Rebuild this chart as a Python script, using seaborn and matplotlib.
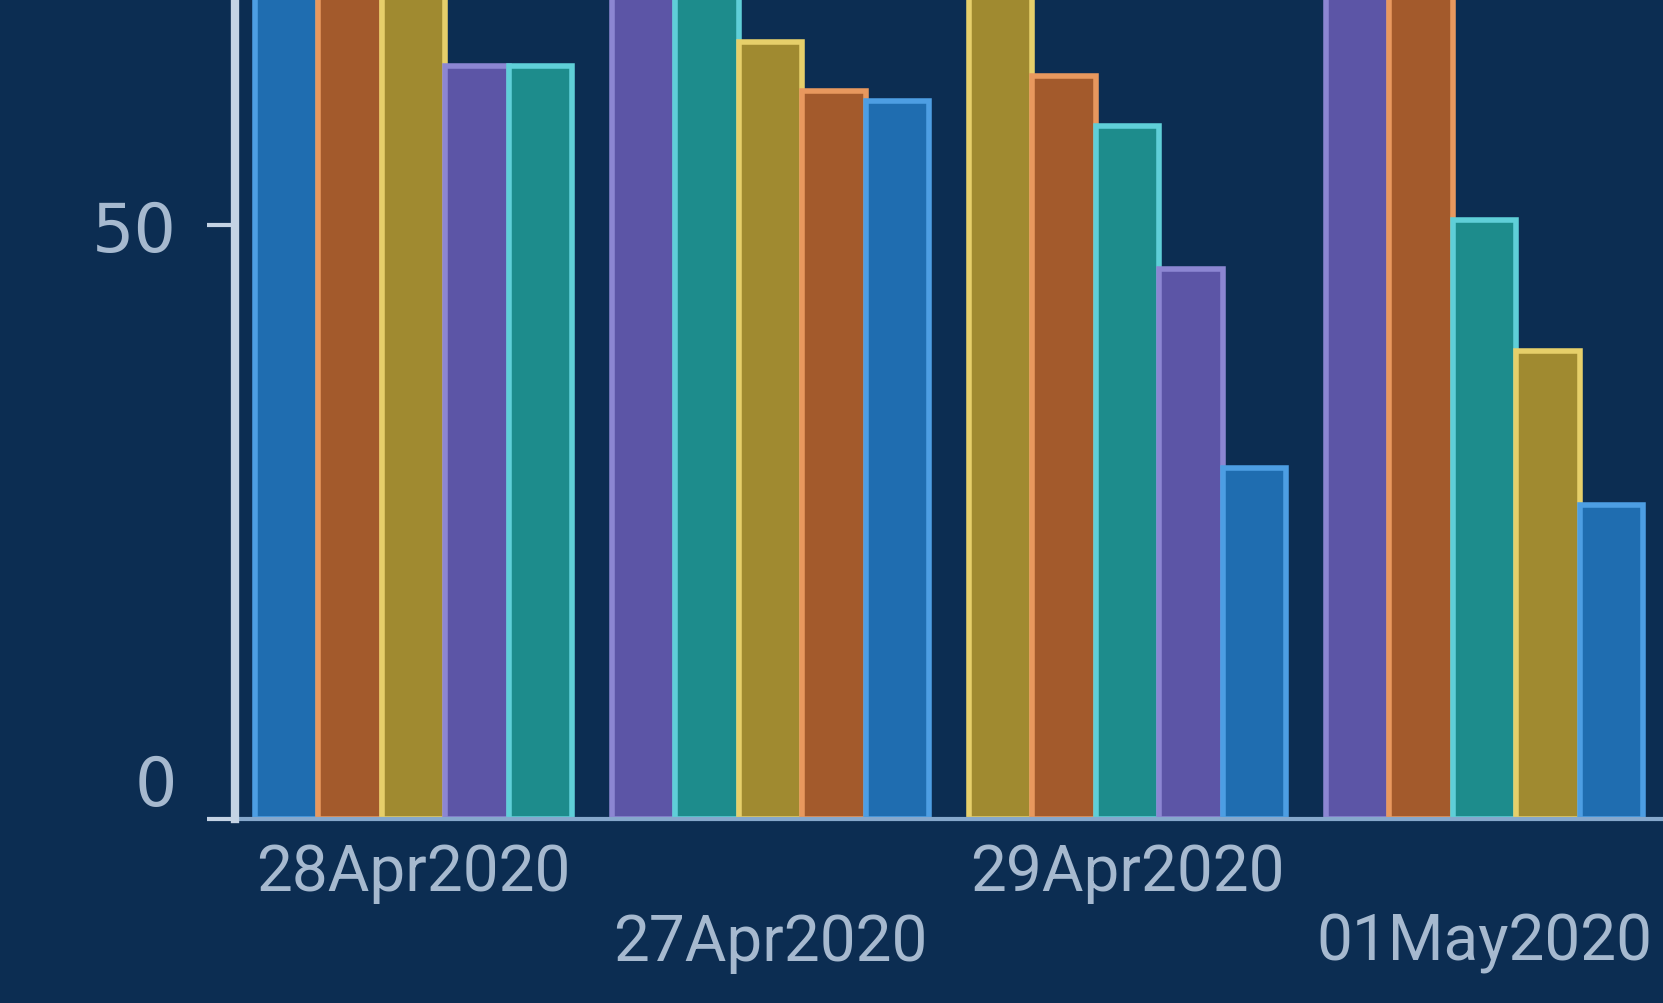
import pandas as pd
import matplotlib.pyplot as plt
import matplotlib.transforms as mtransforms
import seaborn as sns

# values (bars above the top edge are clipped, guessed)
dates = ['28Apr2020', '27Apr2020', '29Apr2020', '01May2020']
series = ['blue', 'brown', 'olive', 'purple', 'teal']
blue = [88, 60.4, 29.5, 26.4]
brown = [84, 61.3, 62.5, 80]
olive = [80, 65.4, 76, 39.4]
purple = [63.4, 82, 46.3, 86]
teal = [63.4, 78, 58.3, 50.4]

fills = {'blue': '#1f6db0', 'brown': '#a35a2c', 'olive': '#a08a30',
         'purple': '#5c55a6', 'teal': '#1d8c8c'}
edges = {'blue': '#4d9ee3', 'brown': '#e8985e', 'olive': '#e6cf6a',
         'purple': '#8c86d2', 'teal': '#5fcfd8'}

bg = '#0c2d52'
txt = '#a6b9cf'
axis_col = '#c4d3e4'

# long table, bars sorted high to low inside each date
rows = []
for name, vals in zip(series, [blue, brown, olive, purple, teal]):
    for d, v in zip(dates, vals):
        rows.append({'date': d, 'series': name, 'value': v})
df = pd.DataFrame(rows)
df['order'] = df['series'].map({s: i for i, s in enumerate(series)})
df = df.sort_values(['date', 'value', 'order'], ascending=[True, False, True])
df['rank'] = df.groupby('date').cumcount()

sns.set_style('dark')
fig = plt.figure(figsize=(16.63, 10.04), dpi=100, facecolor=bg)
ax = fig.add_axes([0.1413, 0.1833, 0.8587, 0.8167])
ax.set_facecolor(bg)

sns.barplot(data=df, x='date', y='value', hue='rank', order=dates,
            width=0.89, dodge=True, legend=False, ax=ax, saturation=1)

# colour each bar by its series
for r, cont in enumerate(ax.containers):
    for bar, d in zip(cont, dates):
        s = df[(df['date'] == d) & (df['rank'] == r)]['series'].iloc[0]
        bar.set_facecolor(fills[s])
        bar.set_edgecolor(edges[s])
        bar.set_linewidth(4)

ax.set_xlim(-0.5, 3.5)
ax.set_ylim(0, 69)
ax.set_yticks([0, 50])
ax.set_xlabel('')
ax.set_ylabel('')
ax.grid(False)

ax.tick_params(axis='y', left=True, colors=axis_col, length=20, width=3, pad=22,
               labelsize=48, labelcolor=txt)
ax.tick_params(axis='x', bottom=False, length=0, pad=16, labelcolor=txt)
for lab in ax.get_yticklabels():
    lab.set_family(['DejaVu Sans'])
for lab in ax.get_xticklabels():
    lab.set_family(['Roboto', 'DejaVu Sans'])
    lab.set_fontsize(46)

# staggered date labels
for i, lab in enumerate(ax.get_xticklabels()):
    if i % 2 == 1:
        lab.set_transform(lab.get_transform() +
                          mtransforms.ScaledTranslation(0, -0.70, fig.dpi_scale_trans))
# zero label sits above the baseline
ylabs = ax.get_yticklabels()
ylabs[0].set_transform(ylabs[0].get_transform() +
                       mtransforms.ScaledTranslation(0, 0.40, fig.dpi_scale_trans))

for side in ['top', 'right']:
    ax.spines[side].set_visible(False)
ax.spines['left'].set_visible(True)
ax.spines['left'].set_color(axis_col)
ax.spines['left'].set_linewidth(6)
ax.spines['left'].set_zorder(6)
ax.spines['bottom'].set_visible(True)
ax.spines['bottom'].set_color('#86a8cc')
ax.spines['bottom'].set_linewidth(3)

fig.savefig('out.png', dpi=100, facecolor=bg)
